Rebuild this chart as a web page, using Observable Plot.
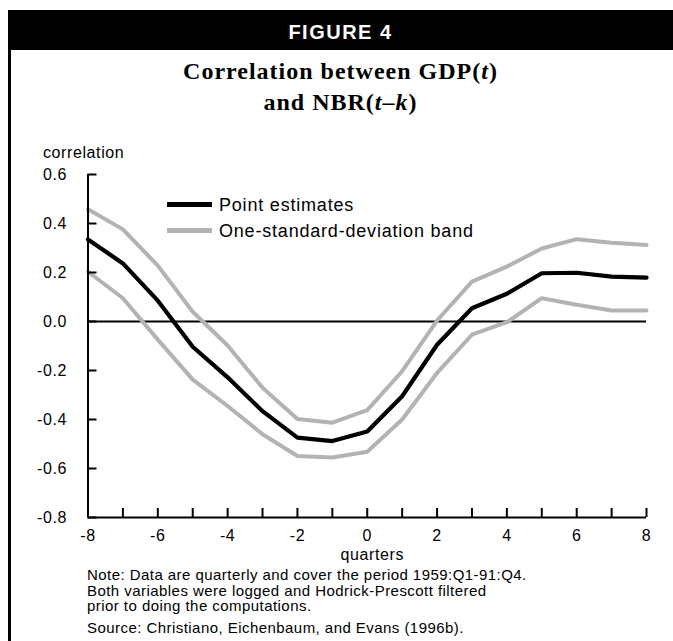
<!DOCTYPE html>
<html>
<head>
<meta charset="utf-8">
<script src="https://cdn.jsdelivr.net/npm/d3@7"></script>
<script src="https://cdn.jsdelivr.net/npm/@observablehq/plot@0.6"></script>
<style>
  html, body { margin: 0; padding: 0; background: #fff; }
  #root { position: relative; width: 673px; height: 641px; overflow: hidden; font-family: "Liberation Sans", Arial, sans-serif; color: #000; }
  #header { position: absolute; left: 8px; top: 10px; width: 665px; height: 40px; background: #000; color: #fff; font-weight: bold; font-size: 20px; text-align: center; line-height: 44px; letter-spacing: 1.5px; overflow: hidden; }
  #border { position: absolute; left: 8px; top: 50px; width: 3px; height: 591px; background: #000; }
  #title { position: absolute; left: 8px; top: 56px; width: 665px; text-align: center; font-family: "Liberation Serif", "Times New Roman", serif; font-weight: bold; font-size: 24px; line-height: 31px; letter-spacing: 1px; }
  #chart { position: absolute; left: 0; top: 130px; }
  .leg { position: absolute; font-size: 18px; line-height: 20px; letter-spacing: 0.8px; }
  .legline { position: absolute; left: 167px; width: 45px; height: 4.5px; }
  #notes { position: absolute; left: 87px; top: 567px; font-size: 15px; line-height: 15.7px; letter-spacing: 0.45px; }
  #notes p { margin: 0; }
</style>
</head>
<body>
<div id="root">
  <div id="header">FIGURE 4</div>
  <div id="border"></div>
  <div id="title">Correlation between GDP(<i>t</i>)<br>and NBR(<i>t</i>–<i>k</i>)</div>
  <div id="chart"></div>
  <div class="legline" style="top:202px;background:#000"></div>
  <div class="leg" style="left:219px;top:195px">Point estimates</div>
  <div class="legline" style="top:228px;background:#b3b3b3"></div>
  <div class="leg" style="left:219px;top:221px">One-standard-deviation band</div>
  <div id="notes">
    <p>Note: Data are quarterly and cover the period 1959:Q1-91:Q4.<br>Both variables were logged and Hodrick-Prescott filtered<br>prior to doing the computations.</p>
    <p style="margin-top:6px">Source: Christiano, Eichenbaum, and Evans (1996b).</p>
  </div>
</div>
<script>
const quarters = [-8, -7, -6, -5, -4, -3, -2, -1, 0, 1, 2, 3, 4, 5, 6, 7, 8];
const pointEstimates = [0.335, 0.237, 0.085, -0.103, -0.228, -0.366, -0.474, -0.488, -0.449, -0.305, -0.095, 0.054, 0.113, 0.197, 0.199, 0.183, 0.179];
const upperBand = [0.458, 0.376, 0.228, 0.040, -0.098, -0.270, -0.398, -0.413, -0.362, -0.203, 0.004, 0.163, 0.224, 0.298, 0.336, 0.321, 0.312];
const lowerBand = [0.203, 0.095, -0.074, -0.237, -0.345, -0.460, -0.549, -0.555, -0.532, -0.400, -0.210, -0.054, -0.003, 0.095, 0.068, 0.045, 0.045];
const xDomain = [-8, 8];
const yDomain = [-0.8, 0.6];
const xTicks = [-8, -7, -6, -5, -4, -3, -2, -1, 0, 1, 2, 3, 4, 5, 6, 7, 8];
const xTickLabels = [-8, -6, -4, -2, 0, 2, 4, 6, 8];
const yTicks = [-0.8, -0.6, -0.4, -0.2, 0.0, 0.2, 0.4, 0.6];

const mk = vals => quarters.map((q, i) => ({q, v: vals[i]}));

const chart = Plot.plot({
  width: 673,
  height: 437,
  marginTop: 44,
  marginLeft: 87.5,
  marginRight: 27,
  marginBottom: 50,
  style: {fontFamily: "'Liberation Sans', Arial, sans-serif", fontSize: "16px", color: "#000", background: "transparent", letterSpacing: "0.6px"},
  x: {domain: xDomain},
  y: {domain: yDomain},
  marks: [
    Plot.ruleY([0], {stroke: "#000", strokeWidth: 2}),
    Plot.line(mk(upperBand), {x: "q", y: "v", stroke: "#b3b3b3", strokeWidth: 4}),
    Plot.line(mk(lowerBand), {x: "q", y: "v", stroke: "#b3b3b3", strokeWidth: 4}),
    Plot.line(mk(pointEstimates), {x: "q", y: "v", stroke: "#000", strokeWidth: 4.2}),
    Plot.ruleX([xDomain[0]], {stroke: "#000", strokeWidth: 2}),
    Plot.ruleY([yDomain[0]], {stroke: "#000", strokeWidth: 2}),
    Plot.axisY({ticks: yTicks, tickSize: -9, tickPadding: 30, strokeWidth: 2, tickFormat: d => d.toFixed(1), label: null, fontSize: 16}),
    Plot.axisX({ticks: xTicks, tickSize: -9, tickFormat: () => "", strokeWidth: 2, label: null}),
    Plot.axisX({ticks: xTickLabels, tickSize: 0, tickPadding: 12, tickFormat: d => String(d), label: null, fontSize: 16}),
    Plot.text(["correlation"], {frameAnchor: "top-left", text: d => d, dx: -45, dy: -28, textAnchor: "start", fontSize: 16}),
    Plot.text(["quarters"], {frameAnchor: "bottom", text: d => d, dx: 5, dy: 42, fontSize: 16})
  ]
});
document.getElementById("chart").appendChild(chart);
</script>
</body>
</html>
